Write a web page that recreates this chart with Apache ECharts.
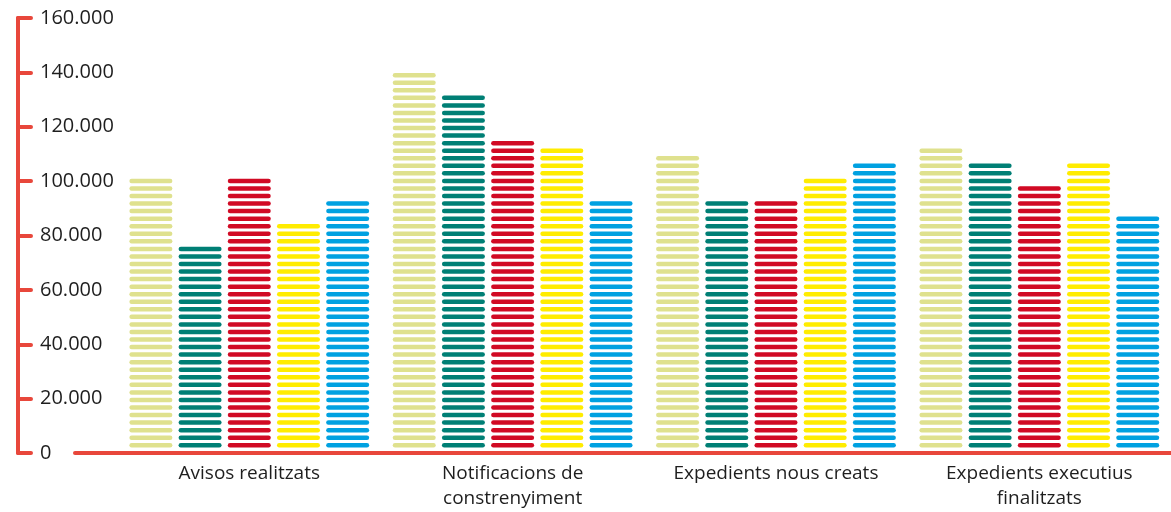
<!DOCTYPE html>
<html>
<head>
<meta charset="utf-8">
<script src="https://cdn.jsdelivr.net/npm/echarts@6/dist/echarts.min.js"></script>
<style>
  html, body { margin: 0; padding: 0; background: #fff; }
  #chart { width: 1171px; height: 512px; }
</style>
</head>
<body>
<div id="chart"></div>
<script>
const categories = ['Avisos realitzats', 'Notificacions de\nconstrenyiment', 'Expedients nous creats', 'Expedients executius\nfinalitzats']
const serieA = [98600, 137500, 106900, 109700]
const serieB = [73600, 129200, 90300, 104200]
const serieC = [98600, 112500, 90300, 95800]
const serieD = [81900, 109700, 98600, 104200]
const serieE = [90300, 90300, 104200, 84700]
const colors = ['#dfe18e', '#007f75', '#d10a24', '#ffec00', '#00a1e1']

const red = '#e8473b'
const pill = 'path://M2.25,0 H40.75 A2.25,2.25 0 0 1 40.75,4.5 H2.25 A2.25,2.25 0 0 1 2.25,0 Z'

const fmt = (v) => v === 0 ? '0' : String(v).replace(/\B(?=(\d{3})+(?!\d))/g, '.')

const makeSeries = (data, i) => ({
  type: 'pictorialBar',
  xAxisIndex: 0,
  yAxisIndex: 0,
  symbol: pill,
  symbolRepeat: true,
  symbolSize: [43, 4.5],
  symbolMargin: 1.53,
  symbolPosition: 'start',
  symbolOffset: [(i - 2) * 49.2, -5.5],
  barGap: '-100%',
  itemStyle: { color: colors[i] },
  data,
})

const chart = echarts.init(document.getElementById('chart'))
chart.setOption({
  animation: false,
  grid: [
    { left: 117.6, width: 1064.8, top: 18, bottom: 59 },
    { left: 75, right: 0, top: 18, bottom: 59 },
  ],
  xAxis: [
    {
      type: 'category',
      gridIndex: 0,
      data: categories,
      axisLine: { show: false },
      axisTick: { show: false },
      axisLabel: {
        interval: 0,
        margin: 8,
        fontSize: 19,
        lineHeight: 25,
        color: '#1e1e1e',
        fontFamily: 'Open Sans',
      },
    },
    {
      type: 'value',
      gridIndex: 1,
      min: 0,
      max: 1,
      axisLine: { show: true, lineStyle: { color: red, width: 4, cap: 'round' } },
      axisTick: { show: false },
      axisLabel: { show: false },
      splitLine: { show: false },
    },
  ],
  yAxis: [
    {
      type: 'value',
      gridIndex: 0,
      min: 0,
      max: 160000,
      interval: 20000,
      offset: 99.6,
      axisLine: { show: true, lineStyle: { color: red, width: 4, cap: 'round' } },
      axisTick: { show: true, inside: true, length: 13, lineStyle: { color: red, width: 4, cap: 'round' } },
      axisLabel: {
        inside: true,
        margin: 22,
        fontSize: 20,
        color: '#1e1e1e',
        fontFamily: 'Open Sans',
        formatter: fmt,
      },
      splitLine: { show: false },
    },
    { type: 'value', gridIndex: 1, show: false },
  ],
  series: [serieA, serieB, serieC, serieD, serieE].map(makeSeries),
})
</script>
</body>
</html>
